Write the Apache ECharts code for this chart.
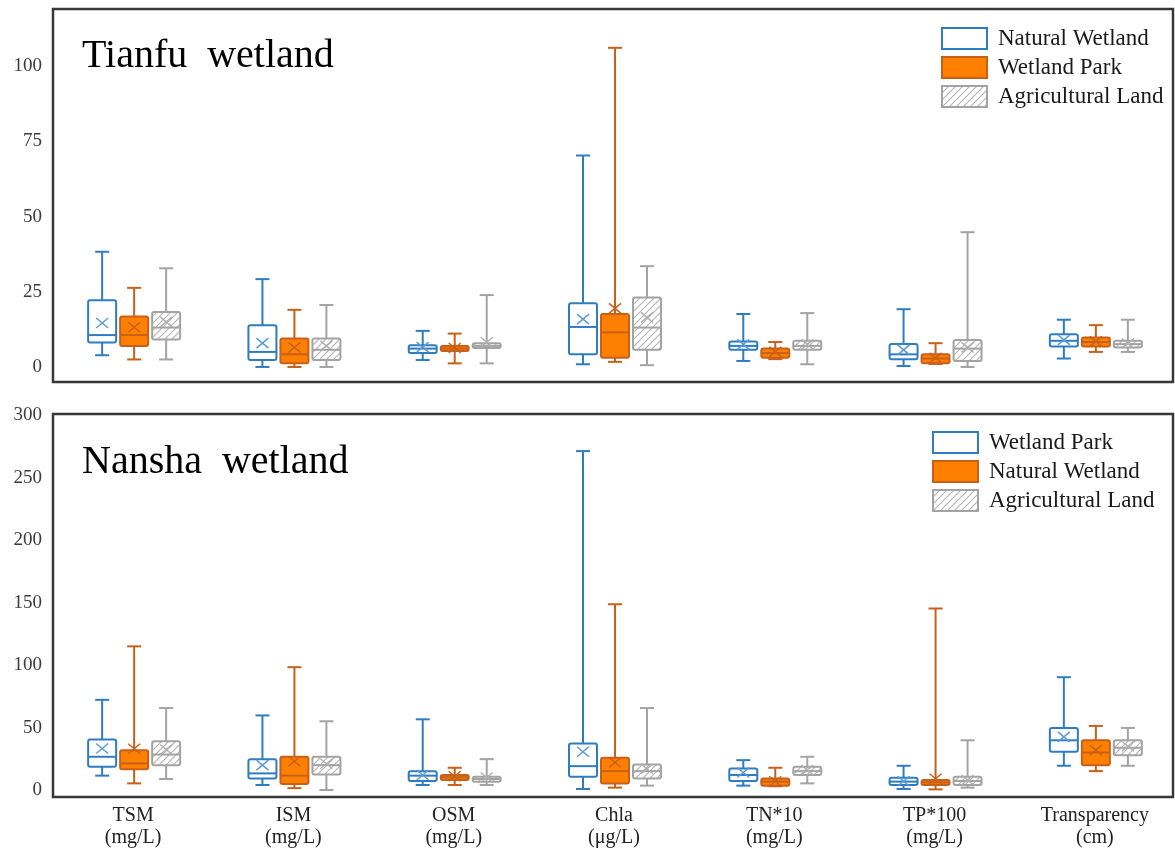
<!DOCTYPE html>
<html>
<head>
<meta charset="utf-8">
<title>Tianfu / Nansha wetland</title>
<script src="https://cdn.jsdelivr.net/npm/echarts@6/dist/echarts.min.js"></script>
<style>
html, body { margin: 0; padding: 0; background: #fff; }
#main { width: 1175px; height: 849px; }
</style>
</head>
<body>
<div id="main"></div>
<script>
// x categories
var categories = ['TSM\n(mg/L)', 'ISM\n(mg/L)', 'OSM\n(mg/L)', 'Chla\n(\u03bcg/L)', 'TN*10\n(mg/L)', 'TP*100\n(mg/L)', 'Transparency\n(cm)'];

var topTicks = [0, 25, 50, 75, 100];
var bottomTicks = [0, 50, 100, 150, 200, 250, 300];

// Tianfu wetland, each row: [min, Q1, median, Q3, max]
var tianfuNatural = [
    [3.9, 8.1, 10.6, 22.2, 38.3],
    [0, 2.3, 5.0, 13.9, 29.2],
    [2.3, 4.6, 6.1, 7.2, 12.0],
    [0.9, 4.2, 13.3, 21.2, 70.3],
    [2.0, 5.7, 7.0, 8.5, 17.6],
    [0.3, 2.6, 4.2, 7.6, 19.2],
    [2.8, 6.8, 8.7, 10.9, 15.7]
];
var tianfuNaturalMean = [14.6, 7.9, 6.6, 15.9, 7.5, 5.7, 9.0];

var tianfuPark = [
    [2.5, 7.0, 10.6, 16.8, 26.3],
    [0, 1.2, 4.2, 9.5, 19.0],
    [1.2, 5.3, 6.1, 7.0, 11.1],
    [1.7, 3.1, 11.5, 17.6, 106.1],
    [2.6, 3.1, 4.6, 6.1, 8.3],
    [1.0, 1.2, 2.8, 4.2, 7.9],
    [5.0, 6.8, 8.3, 9.8, 13.9]
];
var tianfuParkMean = [13.2, 6.5, 6.3, 19.5, 5.0, 3.0, 8.5];

var tianfuAgri = [
    [2.5, 9.1, 13.1, 18.3, 32.8],
    [0, 2.3, 5.7, 9.5, 20.6],
    [1.2, 6.3, 7.0, 7.9, 23.9],
    [0.6, 5.7, 13.1, 23.1, 33.5],
    [0.9, 5.7, 7.0, 8.7, 17.9],
    [0, 2.0, 6.1, 9.0, 44.8],
    [5.0, 6.5, 7.6, 8.7, 15.7]
];
var tianfuAgriMean = [15.0, 7.0, 8.2, 16.5, 7.5, 6.5, 7.8];

// Nansha wetland
var nanshaPark = [
    [11.5, 18.6, 26.6, 40.4, 72.2],
    [4.0, 9.3, 13.3, 24.7, 59.7],
    [4.0, 7.2, 11.5, 15.1, 56.6],
    [0.8, 10.7, 19.1, 37.2, 271.3],
    [3.5, 7.2, 12.0, 17.3, 23.9],
    [0.8, 4.0, 6.7, 9.8, 19.4],
    [19.4, 30.6, 39.8, 49.7, 90.3]
];
var nanshaParkMean = [33.2, 19.9, 12.0, 30.6, 14.0, 7.0, 42.5];

var nanshaNatural = [
    [5.3, 16.7, 21.3, 31.9, 115.0],
    [1.5, 4.8, 11.5, 26.6, 98.3],
    [4.0, 8.0, 10.2, 12.0, 17.8],
    [1.9, 5.3, 15.1, 25.8, 148.7],
    [3.0, 3.5, 6.7, 9.3, 17.8],
    [0.5, 4.0, 6.1, 8.0, 145.3],
    [15.1, 19.9, 30.0, 39.8, 51.3]
];
var nanshaNaturalMean = [33.0, 23.0, 11.0, 22.0, 7.0, 9.0, 31.9];

var nanshaAgri = [
    [8.8, 19.9, 28.4, 39.0, 65.6],
    [0, 12.5, 19.9, 26.6, 55.0],
    [4.0, 6.7, 8.8, 10.7, 24.7],
    [3.5, 9.3, 15.1, 20.5, 65.6],
    [5.3, 12.0, 15.1, 18.6, 26.6],
    [1.9, 4.0, 7.2, 10.7, 39.8],
    [19.4, 27.9, 33.8, 39.8, 49.7]
];
var nanshaAgriMean = [32.4, 21.0, 10.0, 17.0, 16.0, 8.0, 35.0];

var SERIF = 'Liberation Serif';

// hatch fill for the agricultural boxes
function makeHatch() {
    var c = document.createElement('canvas');
    c.width = 7;
    c.height = 7;
    var g = c.getContext('2d');
    g.fillStyle = '#fff';
    g.fillRect(0, 0, 7, 7);
    g.strokeStyle = '#b5b5b5';
    g.lineWidth = 1.2;
    g.beginPath();
    g.moveTo(-1, 8); g.lineTo(8, -1);
    g.moveTo(-1, 1); g.lineTo(1, -1);
    g.moveTo(6, 8); g.lineTo(8, 6);
    g.stroke();
    return c;
}
var hatchFill = { image: makeHatch(), repeat: 'repeat' };

var blueLook = { stroke: '#2e7cc2', fill: '#ffffff', mean: '#5a9bd5' };
var orangeLook = { stroke: '#c8601a', fill: '#ff8000', mean: '#c8601a' };
var grayLook = { stroke: '#a3a3a3', fill: hatchFill, mean: '#b0b0b0' };

// box renderer, offset = px shift from the category centre
function boxRenderer(offset, look) {
    return function (params, api) {
        var cat = api.value(0);
        var x = api.coord([cat, 0])[0] + offset;
        var yLow = api.coord([cat, api.value(1)])[1];
        var yQ1 = api.coord([cat, api.value(2)])[1];
        var yMed = api.coord([cat, api.value(3)])[1];
        var yQ3 = api.coord([cat, api.value(4)])[1];
        var yHigh = api.coord([cat, api.value(5)])[1];
        var yMean = api.coord([cat, api.value(6)])[1];
        var half = 14, cap = 7, mx = 6, my = 5;
        var line = { stroke: look.stroke, lineWidth: 2 };
        return {
            type: 'group',
            children: [
                { type: 'line', shape: { x1: x, y1: yHigh, x2: x, y2: yQ3 }, style: line },
                { type: 'line', shape: { x1: x, y1: yQ1, x2: x, y2: yLow }, style: line },
                { type: 'line', shape: { x1: x - cap, y1: yHigh, x2: x + cap, y2: yHigh }, style: line },
                { type: 'line', shape: { x1: x - cap, y1: yLow, x2: x + cap, y2: yLow }, style: line },
                {
                    type: 'rect',
                    shape: { x: x - half, y: yQ3, width: half * 2, height: Math.max(yQ1 - yQ3, 1), r: 2 },
                    style: { fill: look.fill, stroke: look.stroke, lineWidth: 2 }
                },
                { type: 'line', shape: { x1: x - half, y1: yMed, x2: x + half, y2: yMed }, style: line },
                { type: 'line', shape: { x1: x - mx, y1: yMean - my, x2: x + mx, y2: yMean + my }, style: { stroke: look.mean, lineWidth: 1.5 } },
                { type: 'line', shape: { x1: x - mx, y1: yMean + my, x2: x + mx, y2: yMean - my }, style: { stroke: look.mean, lineWidth: 1.5 } }
            ]
        };
    };
}

function boxSeries(name, boxes, means, gridIdx, offset, look) {
    return {
        name: name,
        type: 'custom',
        xAxisIndex: gridIdx,
        yAxisIndex: gridIdx,
        renderItem: boxRenderer(offset, look),
        itemStyle: { color: look.fill, borderColor: look.stroke },
        encode: { x: 0, y: [1, 2, 3, 4, 5, 6] },
        data: boxes.map(function (b, i) { return [i].concat(b, [means[i]]); }),
        z: 3
    };
}

function legendItem(name, look) {
    return { name: name, itemStyle: { color: look.fill, borderColor: look.stroke, borderWidth: 2 } };
}

var legendBase = {
    orient: 'vertical',
    icon: 'rect',
    itemWidth: 45,
    itemHeight: 21,
    itemGap: 6,
    selectedMode: false,
    textStyle: { fontFamily: SERIF, fontSize: 23, color: '#1a1a1a', padding: [0, 0, 0, 6] }
};

var yLabel = { margin: 11, fontFamily: SERIF, fontSize: 19, color: '#3b3b3b' };

var chart = echarts.init(document.getElementById('main'));

var option = {
    backgroundColor: '#ffffff',
    animation: false,
    title: [{
        text: 'Tianfu  wetland',
        left: 77,
        top: 31,
        textStyle: { fontFamily: SERIF, fontSize: 40, fontWeight: 'normal', color: '#000' }
    }, {
        text: 'Nansha  wetland',
        left: 77,
        top: 437,
        textStyle: { fontFamily: SERIF, fontSize: 40, fontWeight: 'normal', color: '#000' }
    }],
    legend: [
        Object.assign({}, legendBase, {
            left: 936, top: 22,
            data: [legendItem('Natural Wetland', blueLook), legendItem('Wetland Park', orangeLook), legendItem('Agricultural Land', grayLook)]
        }),
        Object.assign({}, legendBase, {
            left: 927, top: 426,
            data: [legendItem('Wetland Park', blueLook), legendItem('Natural Wetland', orangeLook), legendItem('Agricultural Land', grayLook)]
        })
    ],
    grid: [
        { left: 53, top: 9, width: 1127, height: 373 },
        { left: 53, top: 414, width: 1127, height: 383 }
    ],
    xAxis: [{
        gridIndex: 0, type: 'category', data: categories,
        axisLine: { show: false }, axisTick: { show: false }, axisLabel: { show: false }
    }, {
        gridIndex: 1, type: 'category', data: categories,
        axisLine: { show: false }, axisTick: { show: false },
        axisLabel: { margin: 10, fontFamily: SERIF, fontSize: 20, lineHeight: 22, color: '#222' }
    }],
    yAxis: [{
        gridIndex: 0, type: 'value', min: -5, max: 119,
        axisLine: { show: false }, axisTick: { show: false }, splitLine: { show: false },
        axisLabel: Object.assign({ customValues: topTicks }, yLabel)
    }, {
        gridIndex: 1, type: 'value', min: -4, max: 301,
        axisLine: { show: false }, axisTick: { show: false }, splitLine: { show: false },
        axisLabel: Object.assign({ customValues: bottomTicks }, yLabel)
    }],
    // panel frames
    graphic: [
        { type: 'rect', shape: { x: 53, y: 9, width: 1120, height: 373 }, style: { fill: 'none', stroke: '#383838', lineWidth: 2.5 }, z: 10 },
        { type: 'rect', shape: { x: 53, y: 414, width: 1120, height: 383 }, style: { fill: 'none', stroke: '#383838', lineWidth: 2.5 }, z: 10 }
    ],
    series: [
        boxSeries('Natural Wetland', tianfuNatural, tianfuNaturalMean, 0, -31, blueLook),
        boxSeries('Wetland Park', tianfuPark, tianfuParkMean, 0, 1, orangeLook),
        boxSeries('Agricultural Land', tianfuAgri, tianfuAgriMean, 0, 33, grayLook),
        boxSeries('Wetland Park', nanshaPark, nanshaParkMean, 1, -31, blueLook),
        boxSeries('Natural Wetland', nanshaNatural, nanshaNaturalMean, 1, 1, orangeLook),
        boxSeries('Agricultural Land', nanshaAgri, nanshaAgriMean, 1, 33, grayLook)
    ]
};

chart.setOption(option);
</script>
</body>
</html>
